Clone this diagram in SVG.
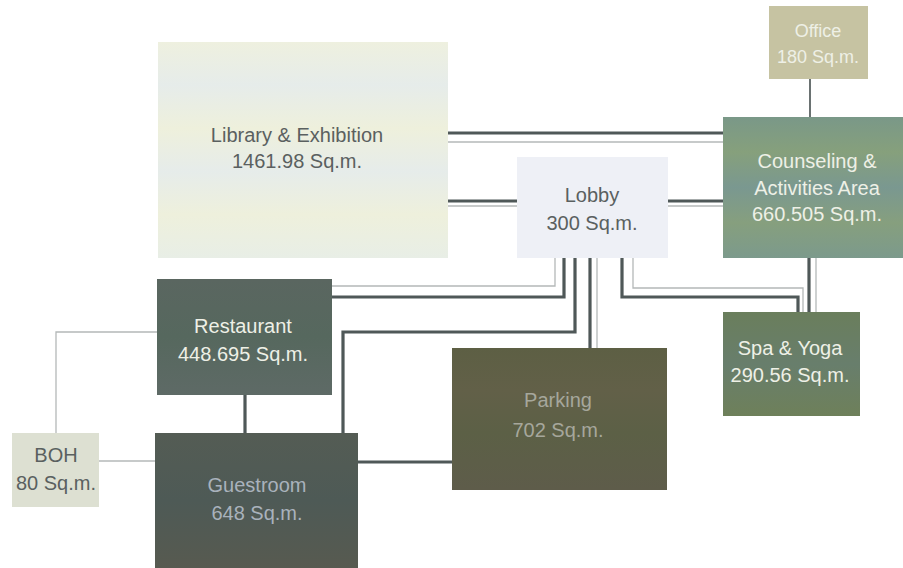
<svg xmlns="http://www.w3.org/2000/svg" width="903" height="568" viewBox="0 0 903 568">
<defs>
<linearGradient id="gLib" x1="0" y1="0" x2="0" y2="1">
<stop offset="0" stop-color="#eef0df"/><stop offset="0.2" stop-color="#e6ecea"/><stop offset="0.4" stop-color="#eef0dc"/><stop offset="0.6" stop-color="#e6ecea"/><stop offset="0.8" stop-color="#eef0dc"/><stop offset="1" stop-color="#e8eee6"/>
</linearGradient>
<linearGradient id="gCoun" x1="0" y1="0" x2="0" y2="1">
<stop offset="0" stop-color="#7a9888"/><stop offset="0.25" stop-color="#86a07c"/><stop offset="0.5" stop-color="#7a9890"/><stop offset="0.75" stop-color="#869f7e"/><stop offset="1" stop-color="#7c9a8c"/>
</linearGradient>
<linearGradient id="gRest" x1="0" y1="0" x2="0" y2="1">
<stop offset="0" stop-color="#5a6660"/><stop offset="0.5" stop-color="#56685e"/><stop offset="1" stop-color="#5e6a66"/>
</linearGradient>
<linearGradient id="gGuest" x1="0" y1="0" x2="0" y2="1">
<stop offset="0" stop-color="#545c54"/><stop offset="0.5" stop-color="#4e5a56"/><stop offset="1" stop-color="#575a50"/>
</linearGradient>
<linearGradient id="gPark" x1="0" y1="0" x2="0" y2="1">
<stop offset="0" stop-color="#5d5f44"/><stop offset="0.3" stop-color="#626048"/><stop offset="0.6" stop-color="#5c6046"/><stop offset="1" stop-color="#5e5c4a"/>
</linearGradient>
<linearGradient id="gSpa" x1="0" y1="0" x2="0" y2="1">
<stop offset="0" stop-color="#6a7e5c"/><stop offset="0.5" stop-color="#687e6c"/><stop offset="1" stop-color="#6e805a"/>
</linearGradient>
</defs>
<style>
.t{font-family:"Liberation Sans",Arial,sans-serif;font-size:20px;text-anchor:middle}
.dk{fill:#5a6060}
.lt{fill:#eef0e6}
.fd{fill:#a9b2bc}
.thick{stroke:#4f5858;stroke-width:3.2;fill:none}
.thin{stroke:#b4b8b8;stroke-width:1.3;fill:none}
</style>
<rect width="903" height="568" fill="#ffffff"/>
<g id="connectors">
<!-- Library - Counseling -->
<line class="thick" x1="448" y1="133" x2="723" y2="133"/>
<line class="thin" x1="448" y1="142" x2="723" y2="142"/>
<!-- Library - Lobby -->
<line class="thick" x1="448" y1="201" x2="517" y2="201"/>
<line class="thin" x1="448" y1="206" x2="517" y2="206"/>
<!-- Lobby - Counseling -->
<line class="thick" x1="668" y1="201" x2="723" y2="201"/>
<line class="thin" x1="668" y1="206" x2="723" y2="206"/>
<!-- Office - Counseling -->
<line x1="810" y1="79" x2="810" y2="117" stroke="#5a6262" stroke-width="1.8"/>
<!-- Lobby - Restaurant -->
<polyline class="thin" points="555,258 555,286 332,286"/>
<polyline class="thick" points="564,258 564,297 332,297"/>
<!-- Lobby - Guestroom -->
<polyline class="thick" points="575,258 575,332 343,332 343,433"/>
<!-- Lobby - Parking -->
<line class="thick" x1="590" y1="258" x2="590" y2="348"/>
<line class="thin" x1="597" y1="258" x2="597" y2="348"/>
<!-- Lobby - Spa -->
<polyline class="thick" points="622,258 622,297 798,297 798,312"/>
<polyline class="thin" points="633,258 633,288 803,288 803,312"/>
<!-- Counseling - Spa -->
<line class="thick" x1="809" y1="258" x2="809" y2="312"/>
<line class="thin" x1="816" y1="258" x2="816" y2="312"/>
<!-- Restaurant - Guestroom -->
<line class="thick" x1="245" y1="395" x2="245" y2="433"/>
<!-- BOH - Restaurant -->
<polyline class="thin" points="56,433 56,332 157,332"/>
<!-- BOH - Guestroom -->
<line class="thin" x1="99" y1="461" x2="155" y2="461"/>
<!-- Guestroom - Parking -->
<line class="thick" x1="358" y1="462" x2="452" y2="462"/>
</g>
<g id="library">
<rect x="158" y="42" width="290" height="216" fill="url(#gLib)"/>
<text class="t dk" x="297" y="142">Library &amp; Exhibition</text>
<text class="t dk" x="297" y="168">1461.98 Sq.m.</text>
</g>
<g id="lobby">
<rect x="517" y="157" width="151" height="101" fill="#eef0f6"/>
<text class="t dk" x="592" y="202">Lobby</text>
<text class="t dk" x="592" y="230">300 Sq.m.</text>
</g>
<g id="office">
<rect x="769" y="6" width="99" height="73" fill="#c6c3a2"/>
<text class="t lt" x="818" y="37" style="font-size:18px">Office</text>
<text class="t lt" x="818" y="63" style="font-size:18px">180 Sq.m.</text>
</g>
<g id="counseling">
<rect x="723" y="117" width="180" height="141" fill="url(#gCoun)"/>
<text class="t lt" x="817" y="168">Counseling &amp;</text>
<text class="t lt" x="817" y="195">Activities Area</text>
<text class="t lt" x="817" y="221">660.505 Sq.m.</text>
</g>
<g id="restaurant">
<rect x="157" y="279" width="175" height="116" fill="url(#gRest)"/>
<text class="t lt" x="243" y="333">Restaurant</text>
<text class="t lt" x="243" y="361">448.695 Sq.m.</text>
</g>
<g id="guestroom">
<rect x="155" y="433" width="203" height="135" fill="url(#gGuest)"/>
<text class="t fd" x="257" y="492">Guestroom</text>
<text class="t fd" x="257" y="520">648 Sq.m.</text>
</g>
<g id="boh">
<rect x="12" y="433" width="87" height="74" fill="#dde0d2"/>
<text class="t dk" x="56" y="462">BOH</text>
<text class="t dk" x="56" y="490">80 Sq.m.</text>
</g>
<g id="parking">
<rect x="452" y="348" width="215" height="142" fill="url(#gPark)"/>
<text class="t" x="558" y="407" fill="#a6a79c">Parking</text>
<text class="t" x="558" y="437" fill="#a6a79c">702 Sq.m.</text>
</g>
<g id="spa">
<rect x="723" y="312" width="137" height="104" fill="url(#gSpa)"/>
<text class="t lt" x="790" y="355">Spa &amp; Yoga</text>
<text class="t lt" x="790" y="382">290.56 Sq.m.</text>
</g>
</svg>
